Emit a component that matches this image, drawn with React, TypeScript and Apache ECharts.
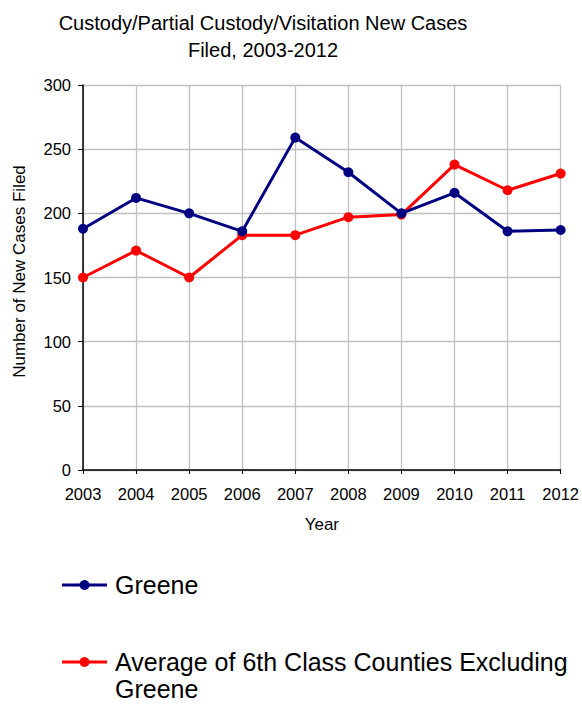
import React, { useEffect, useRef } from "react";
import * as echarts from "echarts";

const years = ["2003", "2004", "2005", "2006", "2007", "2008", "2009", "2010", "2011", "2012"];
const greene = [188, 212, 200, 186, 259, 232, 200, 216, 186, 187];
const average = [150, 171, 150, 183, 183, 197, 199, 238, 218, 231];
const seriesNames = ["Greene", "Average of 6th Class Counties Excluding Greene"];
const legendLabels = ["Greene", "Average of 6th Class Counties Excluding\nGreene"];
const seriesColors = ["#000080", "#ff0000"];
const yTicks = [0, 50, 100, 150, 200, 250, 300];

const FONT = "'Liberation Sans', Arial, sans-serif";

export default function App() {
  const ref = useRef<HTMLDivElement>(null);
  useEffect(() => {
    if (!ref.current) return;
    const chart = echarts.init(ref.current, undefined, { renderer: "svg" });
    const legendRows = [585, 662];
    const LH = 27;
    const graphic: any[] = [];
    legendLabels.forEach((label, i) => {
      const y = legendRows[i];
      graphic.push({
        type: "line",
        shape: { x1: 62, y1: y, x2: 107, y2: y },
        style: { stroke: seriesColors[i], lineWidth: 3 },
      });
      graphic.push({
        type: "circle",
        shape: { cx: 84.5, cy: y, r: 5 },
        style: { fill: seriesColors[i] },
      });
      graphic.push({
        type: "text",
        x: 115,
        y: y - LH / 2,
        style: {
          text: label,
          fill: "#000",
          fontSize: 25,
          fontFamily: FONT,
          lineHeight: LH,
          verticalAlign: "top",
          align: "left",
        },
      });
    });
    chart.setOption({
      animation: false,
      backgroundColor: "#fff",
      title: {
        text: "Custody/Partial Custody/Visitation New Cases\nFiled, 2003-2012",
        left: 258,
        top: 4,
        textAlign: "center",
        textStyle: {
          fontFamily: FONT,
          fontSize: 20,
          fontWeight: "normal",
          lineHeight: 27,
          color: "#000",
        },
      },
      grid: { left: 83, right: 20, top: 85, bottom: 236, containLabel: false },
      xAxis: {
        type: "category",
        data: years,
        boundaryGap: false,
        name: "Year",
        nameLocation: "middle",
        nameGap: 46,
        nameTextStyle: { fontFamily: FONT, fontSize: 17, color: "#000" },
        axisLine: { lineStyle: { color: "#000", width: 1.5 } },
        axisTick: { show: true, length: 4, lineStyle: { color: "#000" } },
        axisLabel: { fontFamily: FONT, fontSize: 16.5, color: "#000", margin: 15, interval: 0 },
        splitLine: { show: true, lineStyle: { color: "#c0c0c0", width: 1.3 } },
      },
      yAxis: {
        type: "value",
        min: 0,
        max: 300,
        interval: 50,
        name: "Number of New Cases Filed",
        nameLocation: "middle",
        nameGap: 55,
        nameTextStyle: { fontFamily: FONT, fontSize: 17, color: "#000", padding: [0, 0, 0, 12] },
        axisLine: { show: true, lineStyle: { color: "#000", width: 1.5 } },
        axisTick: { show: true, length: 5, lineStyle: { color: "#000" } },
        axisLabel: {
          fontFamily: FONT,
          fontSize: 16.5,
          color: "#000",
          margin: 12,
          formatter: (v: number) => (yTicks.includes(v) ? String(v) : ""),
        },
        splitLine: { show: true, lineStyle: { color: "#c0c0c0", width: 1.3 } },
      },
      series: [greene, average].map((d, i) => ({
        name: seriesNames[i],
        type: "line",
        data: d,
        symbol: "circle",
        symbolSize: 10,
        itemStyle: { color: seriesColors[i] },
        lineStyle: { color: seriesColors[i], width: 3 },
        z: 3 - i,
      })),
      graphic,
    });
    return () => chart.dispose();
  }, []);
  return (
    <div
      ref={ref}
      style={{ position: "absolute", left: 0, top: 0, width: 582, height: 706, overflow: "hidden" }}
    />
  );
}
